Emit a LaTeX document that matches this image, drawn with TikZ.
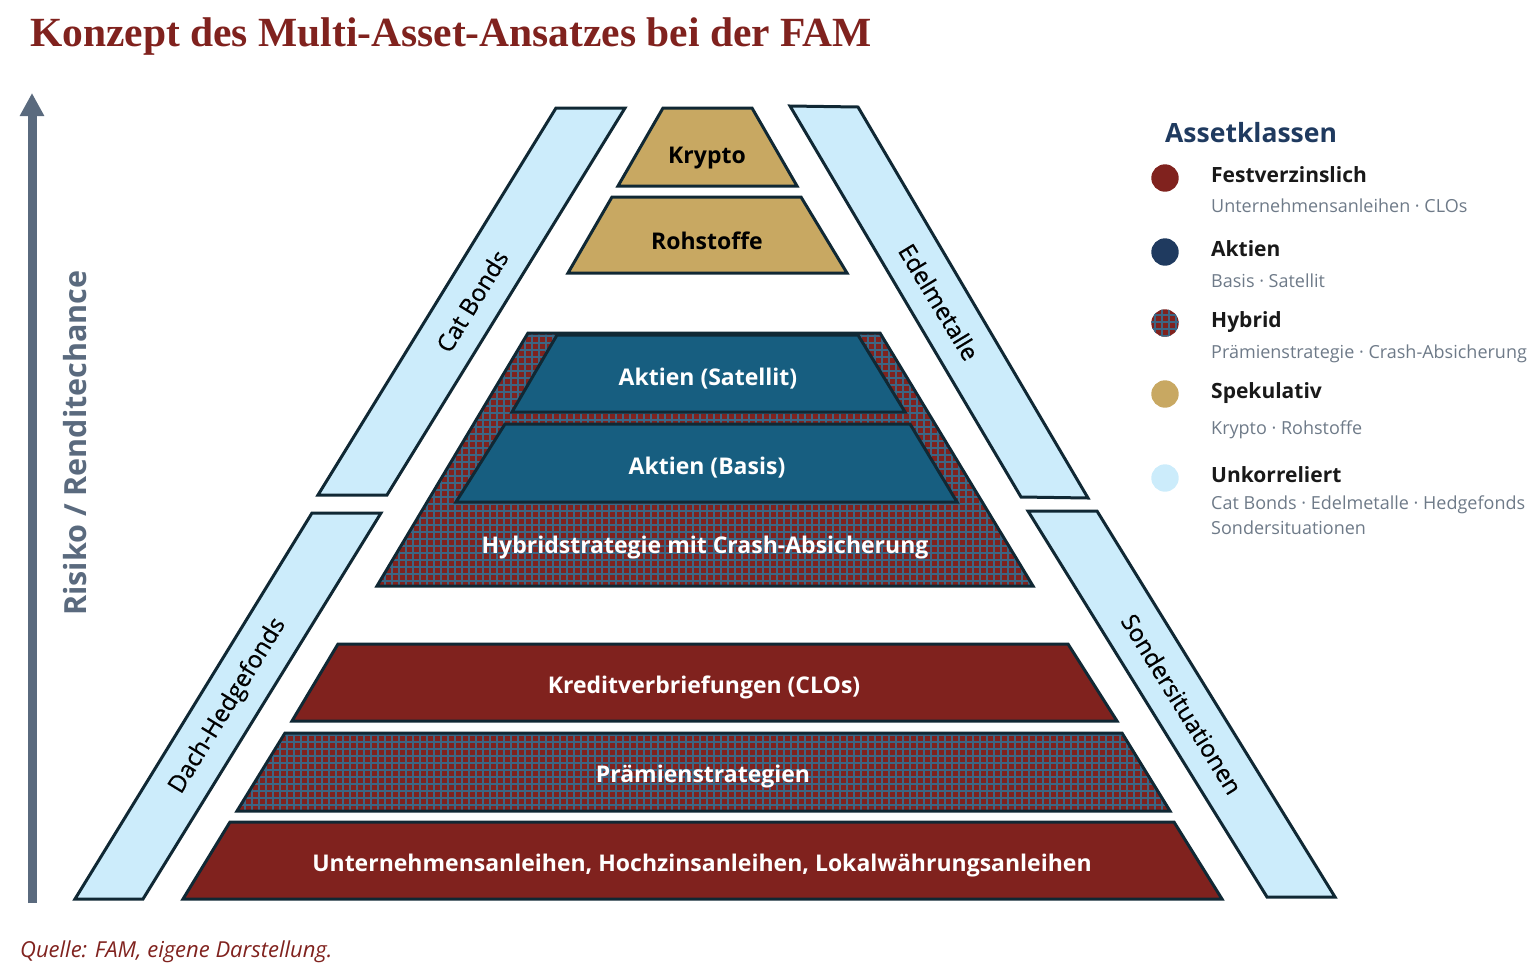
\documentclass[tikz,border=0pt]{standalone}
\usepackage{fontspec}
\setmainfont{Open Sans}
\newfontfamily\titlefont{Liberation Serif}
\newfontfamily\bandfont[FakeBold=0.6]{Open Sans}
\definecolor{famred}{RGB}{128,34,30}
\definecolor{famnavy}{RGB}{31,58,95}
\definecolor{famteal}{RGB}{23,94,128}
\definecolor{famgold}{RGB}{200,168,98}
\definecolor{famsky}{RGB}{204,236,251}
\definecolor{famedge}{RGB}{16,40,52}
\definecolor{famgrid}{RGB}{60,102,132}
\definecolor{famslate}{RGB}{90,106,126}
\definecolor{famgray}{RGB}{110,122,136}
\usepackage{tikz}
\usetikzlibrary{arrows.meta}

% checked hybrid fill: dark red with a blue grid, clipped to the given path
\newcommand{\karofill}[1]{%
  \fill[famred] #1;
  \begin{scope}
    \clip #1;
    \foreach \gx in {0,7,...,1540} \draw[karoline] (\gx,0) -- (\gx,975);
    \foreach \gy in {0,7,...,975} \draw[karoline] (0,\gy) -- (1540,\gy);
  \end{scope}}

\begin{document}
\begin{tikzpicture}[x=1pt, y=-1pt,
    tier/.style={draw=famedge, line width=3pt, line join=miter},
    band/.style={tier, fill=famsky},
    karoline/.style={famgrid, line width=1.8pt},
    lbl/.style={font=\fontsize{23}{28}\selectfont\bfseries, text=white, anchor=base},
    bandlbl/.style={font=\bandfont\fontsize{24}{29}\selectfont, text=black},
    dot/.style={circle, minimum size=27.4pt, inner sep=0pt},
    legtitle/.style={anchor=base west, inner sep=0pt, font=\fontsize{21}{26}\selectfont\bfseries, text=black!90},
    legsub/.style={anchor=base west, inner sep=0pt, font=\fontsize{18}{22}\selectfont, text=famgray},
    axis/.style={famslate, line width=9pt, -{Triangle[width=23pt,length=23pt]}}]
  \useasboundingbox (0,0) rectangle (1534,970);

  % Title and source
  \node[anchor=base west, inner sep=0pt, font=\titlefont\bfseries\fontsize{41.5}{46}\selectfont, text=famred] (title) at (30,46) {Konzept des Multi-Asset-Ansatzes bei der FAM};
  \node[anchor=base west, inner sep=0pt, font=\fontsize{22}{26}\selectfont\itshape, text=famred] (quelle) at (20,957) {Quelle: FAM, eigene Darstellung.};

  % Risk axis
  \coordinate (axisfoot) at (32,903);
  \coordinate (axistip) at (32,93);
  \draw[axis] (axisfoot) -- (axistip);
  \node[font=\fontsize{30.5}{36}\selectfont\bfseries, text=famslate, rotate=90, anchor=base] (risiko) at (86,443) {Risiko / Renditechance};

  % Uncorrelated side bands
  \draw[band] (556,108) -- (625,108) -- (387,495) -- (318,495) -- cycle;
  \draw[band] (312,513) -- (381,513) -- (143,899) -- (75,899) -- cycle;
  \draw[band] (790,106) -- (858,107) -- (1088,498) -- (1021,497) -- cycle;
  \draw[band] (1028,511) -- (1097,511) -- (1335,897) -- (1267,897) -- cycle;
  \node[bandlbl, rotate=58.5] (catbonds) at (472,301) {Cat Bonds};
  \node[bandlbl, rotate=58.5] (hedgefonds) at (228,706) {Dach-Hedgefonds};
  \node[bandlbl, rotate=-58.8] (edelmetalle) at (939,302) {Edelmetalle};
  \node[bandlbl, rotate=-58.3] (sonder) at (1182,704) {Sondersituationen};

  % Speculative top
  \draw[tier, fill=famgold] (663,108) -- (752,108) -- (797,186) -- (618,186) -- cycle;
  \draw[tier, fill=famgold] (612,197) -- (801,197) -- (847,273) -- (568,273) -- cycle;
  \node[lbl, text=black] (krypto) at (707,163) {Krypto};
  \node[lbl, text=black] (rohstoffe) at (707,249) {Rohstoffe};

  % Hybrid block with equities inside
  \karofill{(528,333) -- (880,333) -- (1033,586) -- (377,586) -- cycle}
  \draw[tier] (528,333) -- (880,333) -- (1033,586) -- (377,586) -- cycle;
  \draw[tier, fill=famteal] (557,335) -- (858,335) -- (905,412) -- (512,412) -- cycle;
  \draw[tier, fill=famteal] (505,424) -- (910,424) -- (957,502) -- (456,502) -- cycle;
  \node[lbl] (satellit) at (708,385) {Aktien (Satellit)};
  \node[lbl] (basis) at (707,474) {Aktien (Basis)};
  \node[lbl] (hybrid) at (705,553) {Hybridstrategie mit Crash-Absicherung};

  % Fixed income base
  \draw[tier, fill=famred] (338,644) -- (1068,644) -- (1117,721) -- (292,721) -- cycle;
  \karofill{(285,733) -- (1122,733) -- (1170,811) -- (237,811) -- cycle}
  \draw[tier] (285,733) -- (1122,733) -- (1170,811) -- (237,811) -- cycle;
  \draw[tier, fill=famred] (230,822) -- (1174,822) -- (1222,899) -- (183,899) -- cycle;
  \node[lbl] (clos) at (704,693) {Kreditverbriefungen (CLOs)};
  \node[lbl] (praemien) at (703,782) {Prämienstrategien};
  \node[lbl] (anleihen) at (702,871) {Unternehmensanleihen, Hochzinsanleihen, Lokalwährungsanleihen};

  % Legend
  \node[anchor=base west, inner sep=0pt, font=\fontsize{26.5}{32}\selectfont\bfseries, text=famnavy] (legtitle) at (1165,142) {Assetklassen};
  \node[dot, fill=famred] (festdot) at (1165,178) {};
  \node[dot, fill=famnavy] (aktiendot) at (1165,252) {};
  \karofill{(1165,323) circle (13.7pt)}
  \node[dot] (hybriddot) at (1165,323) {};
  \node[dot, fill=famgold] (spekdot) at (1165,394) {};
  \node[dot, fill=famsky] (unkorrdot) at (1165,478) {};
  \node[legtitle] (festtitle) at (1211,182) {Festverzinslich};
  \node[legsub] (festsub) at (1211,212) {Unternehmensanleihen · CLOs};
  \node[legtitle] (aktientitle) at (1211,256) {Aktien};
  \node[legsub] (aktiensub) at (1211,287) {Basis · Satellit};
  \node[legtitle] (hybridtitle) at (1211,327) {Hybrid};
  \node[legsub] (hybridsub) at (1211,358) {Prämienstrategie · Crash-Absicherung};
  \node[legtitle] (spektitle) at (1211,398) {Spekulativ};
  \node[legsub] (spekub) at (1211,434) {Krypto · Rohstoffe};
  \node[legtitle] (unkorrtitle) at (1211,482) {Unkorreliert};
  \node[legsub] (unkorrsub) at (1211,509) {Cat Bonds · Edelmetalle · Hedgefonds};
  \node[legsub] (unkorrsubb) at (1211,534) {Sondersituationen};
\end{tikzpicture}
\end{document}
